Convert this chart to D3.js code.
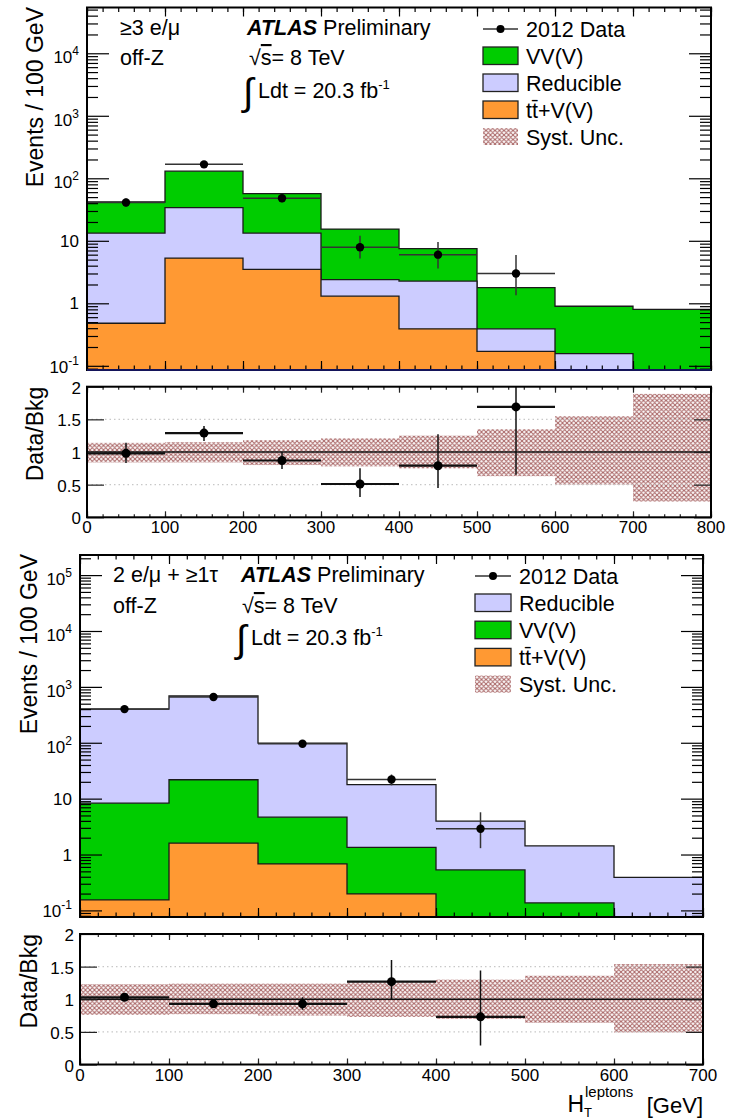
<!DOCTYPE html>
<html><head><meta charset="utf-8">
<script src="https://cdn.jsdelivr.net/npm/d3@7"></script>
<style>
body{margin:0;background:#fff;}
text{font-family:"Liberation Sans",Arial,Helvetica,sans-serif;fill:#000;}
</style>
</head><body>
<svg id="c" width="740" height="1119" xmlns="http://www.w3.org/2000/svg"></svg>
<script>
// ---------------- Panel A : >=3 e/mu, off-Z ----------------
const edgesA = [0,100,200,300,400,500,600,700,800];
const ttvA = [0.48, 5.3, 3.5, 1.3, 0.39, 0.17, 0, 0];
const reducibleA = [12.8, 28.7, 9.8, 1.1, 1.88, 0.22, 0.157, 0];
const vvA = [28.5, 96, 43.7, 13.0, 5.23, 1.39, 0.74, 0.8];
const dataA = [41, 167, 48, 7.9, 6.0, 3.0];
const dataLoA = [35, 154, 41.5, 5.2, 3.6, 1.34];
const dataHiA = [47.5, 180, 55, 12, 9.6, 5.9];
const ratioA = [0.98, 1.29, 0.87, 0.51, 0.79, 1.69];
const ratioLoA = [0.83, 1.17, 0.74, 0.31, 0.45, 0.65];
const ratioHiA = [1.14, 1.40, 1.00, 0.75, 1.27, 2.10];
const systLoA = [0.84, 0.84, 0.80, 0.78, 0.75, 0.63, 0.50, 0.24];
const systHiA = [1.14, 1.15, 1.18, 1.21, 1.25, 1.35, 1.55, 1.89];
const xTicksA = [0,100,200,300,400,500,600,700,800];
const logTicksA = [-1,0,1,2,3,4];

// ---------------- Panel B : 2 e/mu + >=1 tau, off-Z ----------------
const edgesB = [0,100,200,300,400,500,600,700];
const ttvB = [0.154, 1.6, 0.68, 0.197, 0, 0, 0];
const vvB = [8.15, 20.2, 3.98, 1.15, 0.53, 0.136, 0];
const reducibleB = [390, 665, 94, 16.4, 3.42, 1.29, 0.39];
const dataB = [400, 660, 96, 22, 2.9];
const dataLoB = [380, 634, 86, 17.3, 1.3];
const dataHiB = [420, 686, 106, 27, 5.7];
const ratioB = [1.03, 0.93, 0.93, 1.27, 0.73];
const ratioLoB = [0.98, 0.89, 0.84, 1.00, 0.29];
const ratioHiB = [1.08, 0.97, 1.03, 1.60, 1.44];
const systLoB = [0.76, 0.77, 0.75, 0.73, 0.70, 0.64, 0.49];
const systHiB = [1.23, 1.24, 1.24, 1.26, 1.30, 1.36, 1.54];
const xTicksB = [0,100,200,300,400,500,600,700];
const logTicksB = [-1,0,1,2,3,4,5];

const ratioTicks = [0, 0.5, 1, 1.5, 2];
const ratioTickLabels = ["0","0.5","1","1.5","2"];

const COL = {vv:"#00cc00", red:"#ccccff", ttv:"#ff9933", hatch:"#a86464"};

const svg = d3.select("#c");
const defs = svg.append("defs");
const pat = defs.append("pattern").attr("id","hatch").attr("patternUnits","userSpaceOnUse")
  .attr("width",4.5).attr("height",4.5);
pat.append("path").attr("d","M-1,-1L5.5,5.5M5.5,-1L-1,5.5M-1,3.5L1,5.5M3.5,-1L5.5,1M3.5,5.5L5.5,3.5M-1,1L1,-1")
  .attr("stroke",COL.hatch).attr("stroke-width",1.05).attr("fill","none");

function sup(t, base, s, dy, fs){
  t.append("tspan").text(base);
  if (s) t.append("tspan").attr("dy",dy).attr("font-size",fs).text(s);
}

function drawPanel(P){
  const x = d3.scaleLinear().domain([P.edges[0], P.edges[P.edges.length-1]]).range([P.L, P.R]);
  const y = d3.scaleLog().domain(P.ydom).range([P.B, P.T]);
  const g = svg.append("g");
  const cid = "clip"+P.id;
  defs.append("clipPath").attr("id",cid).append("rect")
    .attr("x",P.L).attr("y",P.T).attr("width",P.R-P.L).attr("height",P.B-P.T);
  const gc = g.append("g").attr("clip-path",`url(#${cid})`);

  let cum = P.layers[0].values.map(()=>0);
  const cums = P.layers.map(l => { cum = cum.map((c,i)=>c+l.values[i]); return cum.slice(); });
  const area = d3.area().x(d=>x(d.x)).y0(P.B+5).y1(d=>y(Math.max(d.v, P.ydom[0]*0.3)));
  for (let k=P.layers.length-1;k>=0;k--){
    const pts=[];
    cums[k].forEach((v,i)=>{pts.push({x:P.edges[i],v});pts.push({x:P.edges[i+1],v});});
    gc.append("path").attr("d",area(pts)).attr("fill",P.layers[k].color)
      .attr("stroke","#1a1a1a").attr("stroke-width",1.3).attr("stroke-linejoin","miter");
  }
  const dg = gc.append("g").attr("stroke","#333").attr("stroke-width",1.5);
  P.data.forEach((v,i)=>{
    const lo=P.edges[i], hi=P.edges[i+1], c=(lo+hi)/2;
    dg.append("line").attr("x1",x(lo)).attr("x2",x(hi)).attr("y1",y(v)).attr("y2",y(v));
    dg.append("line").attr("x1",x(c)).attr("x2",x(c)).attr("y1",y(P.dataLo[i])).attr("y2",y(P.dataHi[i]));
    gc.append("circle").attr("cx",x(c)).attr("cy",y(v)).attr("r",4.2).attr("fill","#000");
  });

  const majors = P.logTicks.map(k=>Math.pow(10,k));
  const minors = [];
  P.logTicks.forEach(k=>{ for(let m=2;m<=9;m++){ const v=m*Math.pow(10,k); if(v<=P.ydom[1]) minors.push(v);} });
  for(let m=1;m<=9;m++){ const v=m*Math.pow(10,P.logTicks[0]-1); if(v>=P.ydom[0]) minors.push(v);}
  const tickG = g.append("g").attr("class","ticks");
  tickG.append("g").attr("transform",`translate(${P.L},0)`).call(d3.axisLeft(y).tickValues(majors).tickSize(-22).tickFormat(""));
  tickG.append("g").attr("transform",`translate(${P.L},0)`).call(d3.axisLeft(y).tickValues(minors).tickSize(-11).tickFormat(""));
  tickG.append("g").attr("transform",`translate(${P.R},0)`).call(d3.axisRight(y).tickValues(majors).tickSize(-22).tickFormat(""));
  tickG.append("g").attr("transform",`translate(${P.R},0)`).call(d3.axisRight(y).tickValues(minors).tickSize(-11).tickFormat(""));
  const xMin = d3.range(P.edges[0], P.edges[P.edges.length-1]+1, 20);
  tickG.append("g").attr("transform",`translate(0,${P.B})`).call(d3.axisBottom(x).tickValues(P.xTicks).tickSize(-9).tickFormat(""));
  tickG.append("g").attr("transform",`translate(0,${P.B})`).call(d3.axisBottom(x).tickValues(xMin).tickSize(-4.5).tickFormat(""));
  tickG.append("g").attr("transform",`translate(0,${P.T})`).call(d3.axisTop(x).tickValues(P.xTicks).tickSize(-9).tickFormat(""));
  tickG.append("g").attr("transform",`translate(0,${P.T})`).call(d3.axisTop(x).tickValues(xMin).tickSize(-4.5).tickFormat(""));
  tickG.selectAll(".domain").remove();
  tickG.selectAll("line").attr("stroke","#000").attr("stroke-width",1.2);

  P.logTicks.forEach(k=>{
    const t = g.append("text").attr("text-anchor","end").attr("x",P.L-8).attr("font-size",17);
    if(k===0){ t.attr("y",y(1)+6).text("1"); }
    else if(k===1){ t.attr("y",y(10)+6).text("10"); }
    else { t.attr("y",y(Math.pow(10,k))+ (k<0?7:10)); sup(t,"10",String(k),-8,12); }
  });

  g.append("rect").attr("x",P.L).attr("y",P.T).attr("width",P.R-P.L).attr("height",P.B-P.T)
    .attr("fill","none").attr("stroke","#000").attr("stroke-width",2);
  g.append("line").attr("x1",P.L).attr("x2",P.R).attr("y1",P.B).attr("y2",P.B)
    .attr("stroke",P.bottomCol).attr("stroke-width",2);

  g.append("text").attr("transform",`translate(${P.titleX},${P.titleTop}) rotate(-90)`)
    .attr("text-anchor","end").attr("font-size",23).text("Events / 100 GeV");

  const H = P.head;
  g.append("text").attr("x",H.x1).attr("y",H.b1).attr("font-size",21.5).text(H.label);
  g.append("text").attr("x",H.x1).attr("y",H.b2).attr("font-size",21.5).text("off-Z");
  const at = g.append("text").attr("x",H.xa).attr("y",H.b1).attr("font-size",21.5);
  at.append("tspan").attr("font-weight","bold").attr("font-style","italic").text("ATLAS");
  at.append("tspan").text(" Preliminary");
  const sq = g.append("text").attr("x",H.xs).attr("y",H.b2).attr("font-size",21.5);
  sq.append("tspan").text("√");
  sq.append("tspan").attr("style","text-decoration:overline").text("s");
  sq.append("tspan").text("= 8 TeV");
  g.append("text").attr("x",H.xi).attr("y",H.b3+7).attr("font-size",38).attr("font-family","DejaVu Sans").text("∫");
  const lt = g.append("text").attr("x",H.xi+15).attr("y",H.b3).attr("font-size",21.5);
  lt.append("tspan").text("Ldt = 20.3 fb");
  lt.append("tspan").attr("dy",-9).attr("font-size",13).text("-1");

  const Lg = P.legend;
  const lg = g.append("g");
  lg.append("line").attr("x1",Lg.x0).attr("x2",Lg.x1).attr("y1",Lg.dataY).attr("y2",Lg.dataY).attr("stroke","#333").attr("stroke-width",1.5);
  lg.append("circle").attr("cx",(Lg.x0+Lg.x1)/2).attr("cy",Lg.dataY).attr("r",4).attr("fill","#000");
  lg.append("text").attr("x",Lg.tx).attr("y",Lg.dataY+8).attr("font-size",21.5).text("2012 Data");
  Lg.entries.forEach((e,i)=>{
    const cy = Lg.y0 + i*Lg.dy;
    if(e.color){
      lg.append("rect").attr("x",Lg.x0).attr("y",cy-8.5).attr("width",Lg.x1-Lg.x0).attr("height",17.5)
        .attr("fill",e.color).attr("stroke","#222").attr("stroke-width",1.3);
    } else {
      lg.append("rect").attr("x",Lg.x0).attr("y",cy-8.5).attr("width",Lg.x1-Lg.x0).attr("height",17)
        .attr("fill","url(#hatch)");
    }
    const t = lg.append("text").attr("x",Lg.tx).attr("y",cy+8).attr("font-size",21.5);
    if(e.tt){ t.append("tspan").text("t"); t.append("tspan").text("t\u0304"); t.append("tspan").text("+V(V)"); }
    else t.text(e.name);
  });

  const R = P.ratio;
  const yr = d3.scaleLinear().domain([0,2]).range([R.B,R.T]);
  const rg = svg.append("g");
  const rcid = "rclip"+P.id;
  defs.append("clipPath").attr("id",rcid).append("rect")
    .attr("x",P.L).attr("y",R.T).attr("width",P.R-P.L).attr("height",R.B-R.T);
  const rc = rg.append("g").attr("clip-path",`url(#${rcid})`);
  P.systLo.forEach((lo,i)=>{
    rc.append("rect").attr("x",x(P.edges[i])).attr("width",x(P.edges[i+1])-x(P.edges[i]))
      .attr("y",yr(P.systHi[i])).attr("height",yr(lo)-yr(P.systHi[i])).attr("fill","url(#hatch)");
  });
  [0.5,1.5].forEach(v=>{
    rc.append("line").attr("x1",P.L).attr("x2",P.R).attr("y1",yr(v)).attr("y2",yr(v))
      .attr("stroke","#c8c8c8").attr("stroke-width",1.2).attr("stroke-dasharray","1.5,3");
  });
  rc.append("line").attr("x1",P.L).attr("x2",P.R).attr("y1",yr(1)).attr("y2",yr(1))
    .attr("stroke","#111").attr("stroke-width",1.5);
  P.ratioV.forEach((v,i)=>{
    const lo=P.edges[i], hi=P.edges[i+1], c=(lo+hi)/2;
    rc.append("line").attr("x1",x(lo)).attr("x2",x(hi)).attr("y1",yr(v)).attr("y2",yr(v)).attr("stroke","#111").attr("stroke-width",2.2);
    rc.append("line").attr("x1",x(c)).attr("x2",x(c)).attr("y1",yr(P.ratioLo[i])).attr("y2",yr(P.ratioHi[i])).attr("stroke","#111").attr("stroke-width",1.5);
    rc.append("circle").attr("cx",x(c)).attr("cy",yr(v)).attr("r",4.5).attr("fill","#000");
  });
  const rt = rg.append("g");
  rt.append("g").attr("transform",`translate(${P.L},0)`).call(d3.axisLeft(yr).tickValues(ratioTicks).tickSize(-17).tickFormat(""));
  rt.append("g").attr("transform",`translate(${P.R},0)`).call(d3.axisRight(yr).tickValues(ratioTicks).tickSize(-17).tickFormat(""));
  rt.append("g").attr("transform",`translate(0,${R.B})`).call(d3.axisBottom(x).tickValues(P.xTicks).tickSize(-6).tickFormat(""));
  rt.append("g").attr("transform",`translate(0,${R.B})`).call(d3.axisBottom(x).tickValues(xMin).tickSize(-3).tickFormat(""));
  rt.append("g").attr("transform",`translate(0,${R.T})`).call(d3.axisTop(x).tickValues(P.xTicks).tickSize(-6).tickFormat(""));
  rt.append("g").attr("transform",`translate(0,${R.T})`).call(d3.axisTop(x).tickValues(xMin).tickSize(-3).tickFormat(""));
  rt.selectAll(".domain").remove();
  rt.selectAll("line").attr("stroke","#222").attr("stroke-width",1.2);
  rg.append("rect").attr("x",P.L).attr("y",R.T).attr("width",P.R-P.L).attr("height",R.B-R.T)
    .attr("fill","none").attr("stroke","#000").attr("stroke-width",2);
  ratioTicks.forEach((v,i)=>{
    rg.append("text").attr("x",P.L-6).attr("y",yr(v)+7).attr("text-anchor","end").attr("font-size",17).text(ratioTickLabels[i]);
  });
  P.xTicks.forEach(v=>{
    rg.append("text").attr("x",x(v)).attr("y",R.B+16).attr("text-anchor","middle").attr("font-size",17).text(String(v));
  });
  rg.append("text").attr("transform",`translate(${P.titleX},${R.T}) rotate(-90)`)
    .attr("text-anchor","end").attr("font-size",23).text("Data/Bkg");
}

drawPanel({
  id:"A", edges:edgesA, L:87, R:711, T:7.5, B:370, ydom:[0.0857,54000],
  layers:[{values:ttvA,color:COL.ttv},{values:reducibleA,color:COL.red},{values:vvA,color:COL.vv}],
  data:dataA, dataLo:dataLoA, dataHi:dataHiA, logTicks:logTicksA, xTicks:xTicksA,
  bottomCol:"#14145a", titleX:43, titleTop:7,
  head:{x1:120,b1:35,b2:65,b3:98,xa:247,xs:249,xi:243,label:"≥3 e/μ"},
  legend:{x0:483,x1:518,tx:526,dataY:29,y0:55.5,dy:27,
    entries:[{name:"VV(V)",color:COL.vv},{name:"Reducible",color:COL.red},{tt:true,color:COL.ttv},{name:"Syst. Unc."}]},
  ratio:{T:386.7,B:517.3}, ratioV:ratioA, ratioLo:ratioLoA, ratioHi:ratioHiA, systLo:systLoA, systHi:systHiA
});

drawPanel({
  id:"B", edges:edgesB, L:80, R:703, T:555, B:917, ydom:[0.0762,229000],
  layers:[{values:ttvB,color:COL.ttv},{values:vvB,color:COL.vv},{values:reducibleB,color:COL.red}],
  data:dataB, dataLo:dataLoB, dataHi:dataHiB, logTicks:logTicksB, xTicks:xTicksB,
  bottomCol:"#000", titleX:37, titleTop:554,
  head:{x1:113,b1:582,b2:613,b3:645,xa:241,xs:242,xi:236,label:"2 e/μ + ≥1τ"},
  legend:{x0:475,x1:511,tx:519,dataY:576,y0:602.5,dy:27.2,
    entries:[{name:"Reducible",color:COL.red},{name:"VV(V)",color:COL.vv},{tt:true,color:COL.ttv},{name:"Syst. Unc."}]},
  ratio:{T:934,B:1064.5}, ratioV:ratioB, ratioLo:ratioLoB, ratioHi:ratioHiB, systLo:systLoB, systHi:systHiB
});

svg.append("text").attr("x",703).attr("y",1113).attr("text-anchor","end").attr("font-size",22).text("[GeV]");
svg.append("text").attr("x",584).attr("y",1112).attr("text-anchor","end").attr("font-size",23).text("H");
svg.append("text").attr("x",585).attr("y",1097).attr("font-size",15).text("leptons");
svg.append("text").attr("x",584).attr("y",1117).attr("font-size",13).text("T");
</script>
</body></html>
